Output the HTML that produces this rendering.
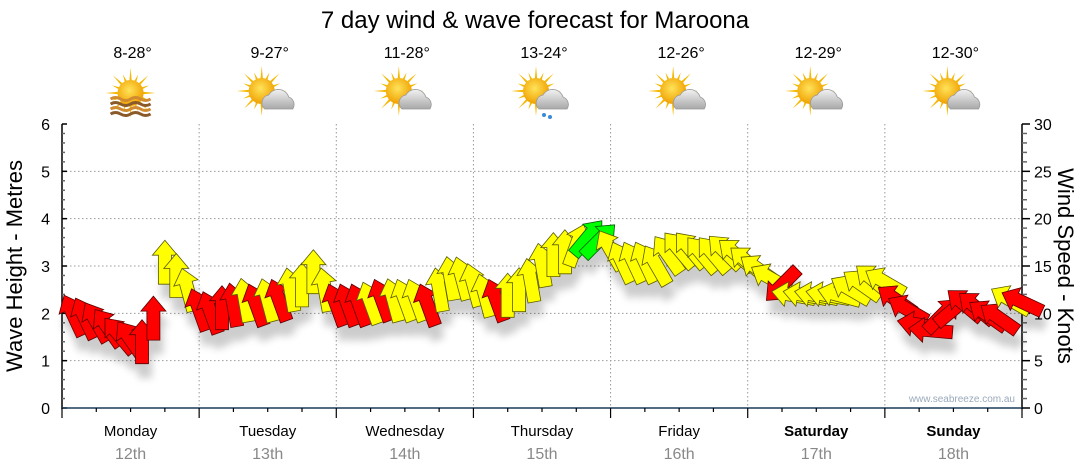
<!DOCTYPE html>
<html><head><meta charset="utf-8">
<style>
html,body{margin:0;padding:0;background:#fff;}
svg{display:block;font-family:"Liberation Sans",sans-serif;}
</style></head>
<body>
<svg id="chart" width="1080" height="475" viewBox="0 0 1080 475" xmlns="http://www.w3.org/2000/svg">
<defs>
<filter id="shadow" x="-50%" y="-50%" width="200%" height="250%">
<feGaussianBlur in="SourceAlpha" stdDeviation="4"/>
<feOffset dx="3" dy="14" result="b"/>
<feComponentTransfer><feFuncA type="linear" slope="0.2"/></feComponentTransfer>
<feMerge><feMergeNode/><feMergeNode in="SourceGraphic"/></feMerge>
</filter>
<radialGradient id="sunG" cx="0.45" cy="0.4" r="0.6"><stop offset="0" stop-color="#ffe35a"/><stop offset="1" stop-color="#f0a000"/></radialGradient>
<linearGradient id="cloudG" x1="0" y1="0" x2="0" y2="1"><stop offset="0" stop-color="#f2f2f2"/><stop offset="1" stop-color="#a8a8a8"/></linearGradient>
</defs>
<text x="535" y="28" font-size="24" text-anchor="middle" fill="#000">7 day wind &amp; wave forecast for Maroona</text>
<g id="grid"></g>
<g id="axes"></g>
<g id="icons"></g>
<g id="arrows" filter="url(#shadow)"></g>
<text x="1015" y="402" font-size="10" text-anchor="end" fill="#9aaabb">www.seabreeze.com.au</text>
<text transform="translate(22,266) rotate(-90)" font-size="22" text-anchor="middle" fill="#000">Wave Height - Metres</text>
<text transform="translate(1058,266) rotate(90)" font-size="22" text-anchor="middle" fill="#000">Wind Speed - Knots</text>
</svg>
<script>
const days = ["Monday","Tuesday","Wednesday","Thursday","Friday","Saturday","Sunday"];
const dates = ["12th","13th","14th","15th","16th","17th","18th"];
const temps = ["8-28°","9-27°","11-28°","13-24°","12-26°","12-29°","12-30°"];
const iconTypes = ["haze","cloud","cloud","rain","cloud","cloud","cloud"];
const waveTicks = [0,1,2,3,4,5,6];
const windTicks = [0,5,10,15,20,25,30];
// wind knots every 2 hours, starting at hour 2
const windKnots = [9.8,9.5,9.1,8.5,7.7,7.2,7.0,9.5,15.4,14.0,12.5,
 10.4,10.1,10.6,10.9,11.4,10.9,11.4,11.4,12.5,13.0,14.4,12.5,
 10.9,10.9,10.9,11.1,11.4,11.4,11.4,11.4,10.9,12.5,13.7,13.7,13.0,
 11.9,11.4,11.9,12.5,13.5,15.1,16.2,16.5,17.2,18.0,17.7,16.7,
 15.4,15.4,15.4,15.1,16.2,16.7,16.7,16.2,16.2,16.5,16.2,15.4,
 14.6,13.7,13.0,11.9,11.9,11.9,11.9,11.9,12.5,13.0,13.5,13.3,
 11.4,10.4,8.8,8.2,9.8,10.4,10.9,10.6,9.8,9.5,11.4,11.2];
const windDir = [-25,-25,-30,-35,-40,-35,0,0,0,0,-15,
 -20,-20,0,-10,-10,-20,-15,-20,-10,0,0,-10,
 -20,-20,-20,-20,-20,-15,-20,-20,-20,-10,-10,-15,-15,
 -15,-20,0,0,-10,-10,0,0,20,40,45,-30,
 -25,-25,-25,-30,-35,-40,-40,-40,-40,-45,-50,-50,
 -55,-60,-135,-80,-80,-80,-80,-75,-60,-55,-50,-60,
 -55,-60,-80,-85,45,50,-50,-50,-55,-55,-60,-65];
const windCat = ["r","r","r","r","r","r","r","r","y","y","y",
 "r","r","r","r","y","r","y","r","y","y","y","y",
 "r","r","r","y","r","y","y","y","r","y","y","y","y",
 "y","r","y","y","y","y","y","y","y","g","g","y",
 "y","y","y","y","y","y","y","y","y","y","y","y",
 "y","y","r","y","y","y","y","y","y","y","y","y",
 "r","r","r","r","r","r","r","r","r","r","y","r"];

const NS="http://www.w3.org/2000/svg";
const X0=62,X1=1022,Y0=408,Y1=124;
const dayW=(X1-X0)/7;
const xH=h=>X0+h*(X1-X0)/168;
const yWave=m=>Y0-m*(Y0-Y1)/6;
const yWind=k=>Y0-k*(Y0-Y1)/30;
function mk(tag,attrs,parent){const e=document.createElementNS(NS,tag);for(const k in attrs)e.setAttribute(k,attrs[k]);parent.appendChild(e);return e;}
const grid=document.getElementById('grid'),axes=document.getElementById('axes'),icons=document.getElementById('icons'),arrows=document.getElementById('arrows');

waveTicks.forEach(v=>{if(v>0&&v<6){const l=mk('line',{x1:X0,x2:X1,y1:yWave(v),y2:yWave(v),stroke:'#999','stroke-dasharray':'1.5,2.5','stroke-width':1},grid);

}});
for(let d=1;d<7;d++){const l=mk('line',{x1:X0+d*dayW,x2:X0+d*dayW,y1:Y1,y2:Y0,stroke:'#999','stroke-dasharray':'1.5,2.5','stroke-width':1},grid);

}

mk('line',{x1:X0,x2:X0,y1:Y1,y2:Y0+1,stroke:'#000','stroke-width':1.5},axes);
for(let i=0;i<=30;i++){const y=Y0-i*(Y0-Y1)/30;mk('line',{x1:X0,x2:X0+(i%5==0?5:3),y1:y,y2:y,stroke:i%5==0?'#000':'#666','stroke-width':1.5},axes);}
waveTicks.forEach(v=>{const t=mk('text',{x:X0-12,y:yWave(v)+6,'font-size':16,'text-anchor':'end',fill:'#000'},axes);t.textContent=v;

});
mk('line',{x1:X1,x2:X1,y1:Y1,y2:Y0+1,stroke:'#000','stroke-width':1.5},axes);
for(let i=0;i<=30;i++){const y=yWind(i);mk('line',{x1:X1,x2:X1+(i%5==0?8:5),y1:y,y2:y,stroke:i%5==0?'#000':'#666','stroke-width':1.5},axes);}
windTicks.forEach(v=>{const t=mk('text',{x:X1+12,y:yWind(v)+6,'font-size':16,'text-anchor':'start',fill:'#000'},axes);t.textContent=v;

});
mk('line',{x1:X0,x2:X1,y1:Y0,y2:Y0,stroke:'#1a3a5a','stroke-width':1.5},axes);
for(let h=0;h<=168;h+=6){const x=xH(h);mk('line',{x1:x,x2:x,y1:Y0,y2:Y0+(h%24==0?10:4),stroke:'#000','stroke-width':1.2},axes);}

days.forEach((d,i)=>{const cx=X0+dayW*(i+0.5);
const t=mk('text',{x:cx,y:436,'font-size':15,'text-anchor':'middle',fill:'#000','font-weight':i>=5?'bold':'normal'},axes);t.textContent=d;


const t2=mk('text',{x:cx,y:459,'font-size':16,'text-anchor':'middle',fill:'#888'},axes);t2.textContent=dates[i];


const t3=mk('text',{x:cx+2,y:58,'font-size':16,'text-anchor':'middle',fill:'#000'},icons);t3.textContent=temps[i];


const g=mk('g',{transform:`translate(${cx},95)`},icons);


const sx=iconTypes[i]=='haze'?0:-6, sy=iconTypes[i]=='haze'?-2:-4;
for(let a=0;a<16;a++){const ang=a*Math.PI/8;const r2=a%2?20:25;
mk('polygon',{points:`${sx+Math.cos(ang-0.12)*11},${sy+Math.sin(ang-0.12)*11} ${sx+Math.cos(ang)*r2},${sy+Math.sin(ang)*r2} ${sx+Math.cos(ang+0.12)*11},${sy+Math.sin(ang+0.12)*11}`,fill:'#f5b800'},g);}
mk('circle',{cx:sx,cy:sy,r:13,fill:'url(#sunG)'},g);
if(iconTypes[i]=='haze'){
 for(let w=0;w<4;w++){mk('path',{d:`M-20,${4+w*5} q5,-3 10,0 t10,0 t10,0 t10,0`,fill:'none',stroke:w%2?'#8a5a2a':'#d08a30','stroke-width':3},g);}
}else{
 mk('path',{d:'M-3,14 a8,8 0 0 1 4,-14 a11,11 0 0 1 20,2 a8,8 0 0 1 4,12 z',fill:'url(#cloudG)',stroke:'#999','stroke-width':0.8},g);
 if(iconTypes[i]=='rain'){mk('circle',{cx:2,cy:20,r:2,fill:'#3a8ad8'},g);mk('circle',{cx:8,cy:22,r:2,fill:'#3a8ad8'},g);}
}
});

const colors={r:'#ff0000',y:'#ffff00',g:'#00ff00'};
const strokes={r:'#5a0000',y:'#5a5a00',g:'#005a00'};
windKnots.forEach((k,i)=>{const h=2+2*i;const x=xH(h),y=yWind(k);
const p=mk('polygon',{points:'0,-22 12.5,-7 6.5,-7 6.5,22 -6.5,22 -6.5,-7 -12.5,-7',fill:colors[windCat[i]],stroke:strokes[windCat[i]],'stroke-width':0.8,transform:`translate(${x.toFixed(1)},${y.toFixed(1)}) rotate(${windDir[i]})`},arrows);

});
</script>
</body></html>
